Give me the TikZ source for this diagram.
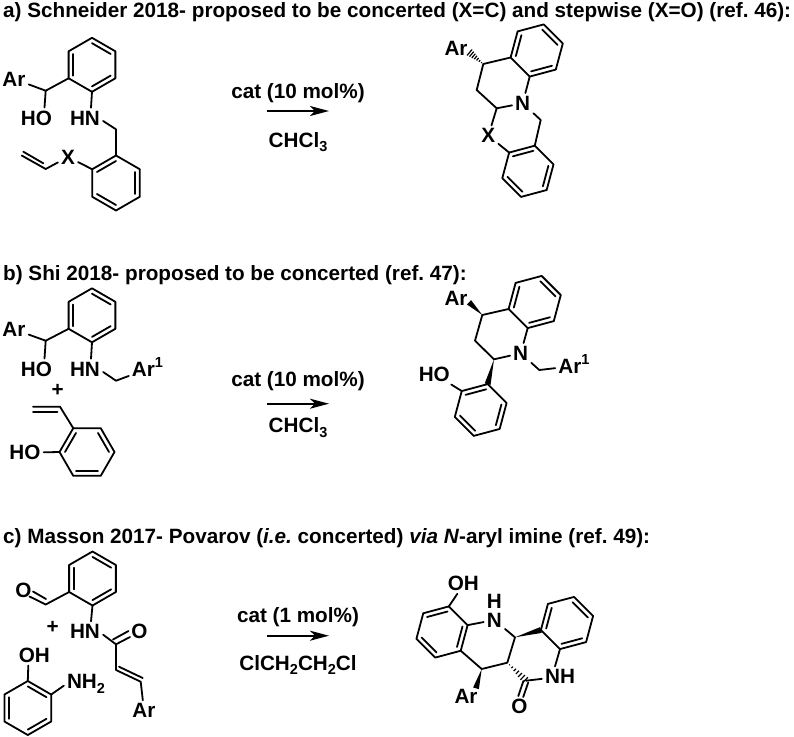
\documentclass[tikz,border=0pt]{standalone}
\usepackage{fontspec}
\setmainfont{Liberation Sans}
\usetikzlibrary{calc,arrows.meta}

\newcommand{\labelfont}{\frenchspacing\fontsize{20.7}{23}\selectfont\bfseries}
\newcommand{\lowidx}[1]{\smash{\raisebox{-.22em}{\fontsize{14.5}{15}\selectfont #1}}}
\newcommand{\upidx}[1]{\smash{\raisebox{.42em}{\fontsize{14.5}{15}\selectfont #1}}}

\tikzset{
  bond/.style={line width=1.8pt,line cap=round,line join=round},
  atom/.style={font=\labelfont,inner sep=3pt},
  heading/.style={font=\labelfont,anchor=base west,inner sep=0pt},
  rxnarrow/.style={line width=1.8pt,-{Stealth[length=19pt,width=10pt,inset=5pt]}},
}

% name, centre, radius, first angle
\newcommand{\benz}[4]{
  \foreach \k in {1,...,6}{\coordinate (#1\k) at ($(#2)+({#4+60*(\k-1)}:#3)$);}
  \draw[bond] (#11) -- (#12) -- (#13) -- (#14) -- (#15) -- (#16) -- cycle;
  \draw[bond] ($(#11)!.2!(#2)$) -- ($(#12)!.2!(#2)$);
  \draw[bond] ($(#13)!.2!(#2)$) -- ($(#14)!.2!(#2)$);
  \draw[bond] ($(#15)!.2!(#2)$) -- ($(#16)!.2!(#2)$);
}
\newcommand{\wedgebond}[2]{
  \fill ($(#1)$) -- ($(#2)!3pt!90:(#1)$) -- ($(#2)!3pt!-90:(#1)$) -- cycle;
}
\newcommand{\hashbond}[2]{
  \foreach \t in {.12,.26,.4,.54,.68,.82,.96}{
    \pgfmathsetmacro\hw{\t*4}
    \draw[line width=1.2pt] ($(#1)!\t!(#2)!\hw pt!90:(#2)$) -- ($(#1)!\t!(#2)!\hw pt!-90:(#2)$);
  }
}

\begin{document}
\begin{tikzpicture}[x=1pt,y=-1pt]
\useasboundingbox (0,0) rectangle (794,736);

\node[heading] (heada) at (3,17.5) {a) Schneider 2018- proposed to be concerted (X=C) and stepwise (X=O) (ref. 46):};
\node[heading] (headb) at (3,280) {b) Shi 2018- proposed to be concerted (ref. 47):};
\node[heading] (headc) at (3,543) {c) Masson 2017- Povarov (\textit{i.e.} concerted) \textit{via N}-aryl imine (ref. 49):};

\benz{ra}{92,64.8}{27}{-90}
\benz{rb}{116,183}{27.5}{-30}
\node[atom] (ara) at (14,79) {Ar};
\node[atom] (hoa) at (36.5,118) {HO};
\node[atom] (hna) at (85,118) {HN};
\node[atom] (xa) at (68,157) {X};
\coordinate (cha) at (45.7,90.7);
\coordinate (cba) at (116,129.3);
\coordinate (via) at (45.7,169);
\coordinate (vib) at (21.7,155.5);
\draw[bond] (ra5) -- (cha) -- (ara);
\draw[bond] (cha) -- ([xshift=8pt]hoa.north);
\draw[bond] (ra4) -- ([xshift=6pt]hna.north);
\draw[bond] ([yshift=-3pt]hna.east) -- (cba) -- (rb6);
\draw[bond] (xa) -- (rb5);
\draw[bond] (xa) -- (via) -- (vib);
\draw[bond] (43.3,163.3) -- (23.3,151.7);

\coordinate (arrowaa) at (267,111);
\coordinate (arrowab) at (329,111);
\draw[rxnarrow] (arrowaa) -- (arrowab);
\node[atom] (cata) at (298,93) {cat (10 mol\%)};
\node[atom] (solva) at (298,140) {CHCl\lowidx{3}};

\benz{rc}{536.7,50.5}{27}{45}
\benz{rd}{527.9,171.3}{26.5}{-15}
\node[atom] (arpa) at (456,48.3) {Ar};
\node[atom] (npa) at (522.7,103.3) {N};
\node[atom] (xpa) at (488.3,135.7) {X};
\coordinate (capa) at (483.3,64);
\coordinate (cbpa) at (476.7,90);
\coordinate (ccpa) at (496.7,108.3);
\coordinate (cdpa) at (540.7,120);
\coordinate (hpa) at (469,52);
\draw[bond] (rc3) -- (capa) -- (cbpa) -- (ccpa) -- (npa);
\draw[bond] (rc2) -- (npa) -- (cdpa) -- (rd6);
\draw[bond] (ccpa) -- (xpa) -- (rd5);
\hashbond{capa}{hpa}

\benz{re}{92,315.3}{27}{-90}
\benz{rf}{87,452}{27.5}{-60}
\node[atom] (arb) at (14,329.3) {Ar};
\node[atom] (hob) at (36.5,369) {HO};
\node[atom] (hnb) at (85,369) {HN};
\node[atom] (arab) at (147.5,369) {Ar\upidx{1}};
\node[atom] (plusb) at (57.7,390.7) {+};
\node[atom] (hoc) at (25,452.7) {HO};
\coordinate (chb) at (45.7,340.7);
\coordinate (cbb) at (116,380.7);
\coordinate (vic) at (60,406.7);
\draw[bond] (re5) -- (chb) -- (arb);
\draw[bond] (chb) -- ([xshift=8pt]hob.north);
\draw[bond] (re4) -- ([xshift=6pt]hnb.north);
\draw[bond] ([yshift=-3pt]hnb.east) -- (cbb) -- (arab);
\draw[bond] (33,406.7) -- (vic) -- (rf6);
\draw[bond] (33,411.7) -- (57.5,411.7);
\draw[bond] (hoc) -- (rf5);

\coordinate (arrowba) at (267,403.7);
\coordinate (arrowbb) at (329,403.7);
\draw[rxnarrow] (arrowba) -- (arrowbb);
\node[atom] (catb) at (298,380.7) {cat (10 mol\%)};
\node[atom] (solvb) at (298,425.5) {CHCl\lowidx{3}};

\benz{rg}{534.7,302}{27}{45}
\benz{rh}{480.7,410}{26.8}{-15}
\node[atom] (arpb) at (456,298.3) {Ar};
\node[atom] (npb) at (520.7,353.3) {N};
\node[atom] (arapb) at (574,366) {Ar\upidx{1}};
\node[atom] (hopb) at (434.3,374) {HO};
\coordinate (capb) at (482.3,315);
\coordinate (cbpb) at (475,340.7);
\coordinate (ccpb) at (494,359.3);
\coordinate (cdpb) at (539.3,370);
\coordinate (wpb) at (469,302.3);
\draw[bond] (rg3) -- (capb) -- (cbpb) -- (ccpb) -- (npb);
\draw[bond] (rg2) -- (npb) -- (cdpb) -- (arapb);
\draw[bond] (hopb) -- (rh5);
\wedgebond{capb}{wpb}
\wedgebond{ccpb}{rh6}

\benz{ri}{92.5,578.5}{27}{-90}
\benz{rj}{27.8,708}{27}{-90}
\node[atom] (oc) at (23.3,590.7) {O};
\node[atom] (plusc) at (52.7,627.3) {+};
\node[atom] (hnc) at (85,631.7) {HN};
\node[atom] (odc) at (139.3,631.7) {O};
\node[atom] (arc) at (144,710.7) {Ar};
\node[atom] (ohc) at (34.3,655) {OH};
\node[atom] (nhc) at (86,681.7) {NH\lowidx{2}};
\coordinate (chc) at (45.7,604.5);
\coordinate (cac) at (116,644.3);
\coordinate (cbc) at (116,670);
\coordinate (ccc) at (140.7,681.7);
\draw[bond] (ri5) -- (chc) -- (29.5,596.5);
\draw[bond] (46,599) -- (33,591.5);
\draw[bond] (ri4) -- ([xshift=6pt]hnc.north);
\draw[bond] ([yshift=-3pt]hnc.east) -- (cac) -- (cbc) -- (ccc) -- (arc);
\draw[bond] (cac) -- (130,637);
\draw[bond] (113,639.5) -- (128.5,631);
\draw[bond] (119,666.7) -- (142.7,678);
\draw[bond] (rj1) -- ([xshift=-6pt]ohc.south);
\draw[bond] (rj2) -- ([yshift=-4pt]nhc.west);

\coordinate (arrowca) at (267,635.7);
\coordinate (arrowcb) at (329,635.7);
\draw[rxnarrow] (arrowca) -- (arrowcb);
\node[atom] (catc) at (298,617) {cat (1 mol\%)};
\node[atom] (solvc) at (298,663) {ClCH\lowidx{2}CH\lowidx{2}Cl};

\benz{rk}{442,632}{26.5}{-15}
\benz{rl}{567,623}{27}{45}
\node[atom] (ohp) at (463.3,583.3) {OH};
\node[atom,inner sep=0pt] (hpc) at (494.3,601.5) {H};
\node[atom] (npc) at (494.3,620) {N};
\node[atom] (arpc) at (466,696.7) {Ar};
\node[atom] (opc) at (519.3,706.7) {O};
\node[atom] (nhp) at (560,676.7) {NH};
\coordinate (capc) at (515,637.3);
\coordinate (cbpc) at (507.3,662.7);
\coordinate (ccpc) at (481.7,669);
\coordinate (cdpc) at (526,680.7);
\coordinate (wpc) at (476,688.3);
\draw[bond] (rk6) -- ([xshift=-6pt]ohp.south);
\draw[bond] (rk1) -- (npc) -- (capc) -- (cbpc) -- (ccpc) -- (rk2);
\draw[bond] (cdpc) -- (nhp);
\draw[bond] (rl2) -- ([xshift=-5pt]nhp.north);
\draw[bond] (523.4,681) -- (518.3,696);
\draw[bond] (528.2,682.5) -- (523.2,697);
\wedgebond{capc}{rl3}
\wedgebond{ccpc}{wpc}
\hashbond{cbpc}{cdpc}
\end{tikzpicture}
\end{document}
